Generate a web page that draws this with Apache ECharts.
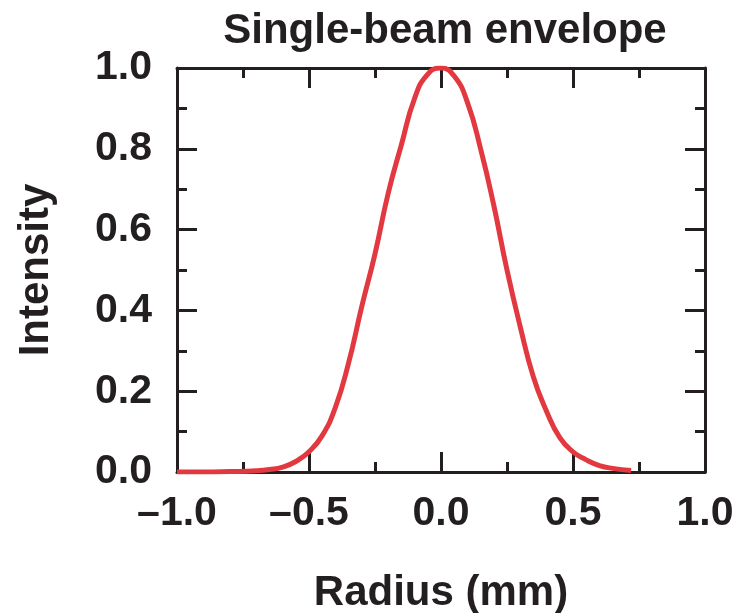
<!DOCTYPE html>
<html>
<head>
<meta charset="utf-8">
<script src="https://cdn.jsdelivr.net/npm/echarts@6/dist/echarts.min.js"></script>
<style>
  html, body { margin: 0; padding: 0; background: #fff; }
  #chart { width: 738px; height: 613px; }
</style>
</head>
<body>
<div id="chart"></div>
<script>
// radius (mm) and intensity
const radius = [-1.0, -0.9, -0.8, -0.7, -0.65, -0.6, -0.55, -0.5, -0.45, -0.4, -0.35, -0.3, -0.25, -0.2, -0.15, -0.1, -0.05, 0,
  0.05, 0.1, 0.15, 0.2, 0.25, 0.3, 0.35, 0.4, 0.45, 0.5, 0.55, 0.6, 0.65, 0.72]
const intensity = [0, 0, 0.001, 0.003, 0.006, 0.012, 0.026, 0.05, 0.09, 0.16, 0.27, 0.41, 0.54, 0.69, 0.81, 0.925, 0.985, 1.0,
  0.98, 0.915, 0.80, 0.66, 0.50, 0.36, 0.235, 0.15, 0.085, 0.05, 0.03, 0.016, 0.009, 0.004]
const xTicks = [-1.0, -0.5, 0.0, 0.5, 1.0]
const yTicks = [0.0, 0.2, 0.4, 0.6, 0.8, 1.0]

const font = 'Liberation Sans, Arial, Helvetica, sans-serif'
const ink = '#231f20'
const red = '#e2383f'

const fmt = v => v.toFixed(1).replace('-', '\u2013')

const lineStyle = { color: ink, width: 3 }
const tick = { show: true, inside: true, length: 20, lineStyle: { color: ink, width: 3 } }
const minor = { show: true, splitNumber: 2, length: 10, lineStyle: { color: ink, width: 3 } }

const series = [{
  type: 'line',
  smooth: true,
  showSymbol: false,
  data: radius.map((r, i) => [r, intensity[i]]),
  lineStyle: { color: red, width: 5 },
  itemStyle: { color: red }
}]

const option = {
  animation: false,
  title: {
    text: 'Single-beam envelope',
    left: 440,
    textAlign: 'center',
    top: 5,
    textStyle: { fontFamily: font, fontSize: 42, fontWeight: 'bold', color: ink }
  },
  grid: { left: 177, right: 33, top: 68, bottom: 141, outerBoundsMode: 'none' },
  xAxis: [
    {
      type: 'value',
      min: -1, max: 1, interval: 0.5,
      name: 'Radius (mm)',
      nameLocation: 'middle',
      nameGap: 100,
      nameTextStyle: { fontFamily: font, fontSize: 42, fontWeight: 'bold', color: ink },
      axisLine: { show: true, onZero: false, lineStyle },
      axisTick: tick,
      minorTick: minor,
      splitLine: { show: false },
      axisLabel: {
        margin: 21,
        fontFamily: font, fontSize: 41, fontWeight: 'bold', color: ink,
        formatter: v => xTicks.some(t => Math.abs(t - v) < 1e-9) ? fmt(v) : ''
      }
    },
    {
      type: 'value', position: 'top',
      min: -1, max: 1, interval: 0.5,
      axisLine: { show: true, onZero: false, lineStyle },
      axisTick: tick,
      minorTick: minor,
      axisLabel: { show: false },
      splitLine: { show: false }
    }
  ],
  yAxis: [
    {
      type: 'value',
      min: 0, max: 1, interval: 0.2,
      name: 'Intensity',
      nameLocation: 'middle',
      nameGap: 120,
      nameTextStyle: { fontFamily: font, fontSize: 42, fontWeight: 'bold', color: ink },
      axisLine: { show: true, onZero: false, lineStyle },
      axisTick: tick,
      minorTick: minor,
      splitLine: { show: false },
      axisLabel: {
        margin: 25,
        fontFamily: font, fontSize: 41, fontWeight: 'bold', color: ink,
        formatter: v => yTicks.some(t => Math.abs(t - v) < 1e-9) ? fmt(v) : ''
      }
    },
    {
      type: 'value', position: 'right',
      min: 0, max: 1, interval: 0.2,
      axisLine: { show: true, onZero: false, lineStyle },
      axisTick: tick,
      minorTick: minor,
      axisLabel: { show: false },
      splitLine: { show: false }
    }
  ],
  series: series
}

const chart = echarts.init(document.getElementById('chart'), null, { renderer: 'canvas' })
chart.setOption(option)
</script>
</body>
</html>
